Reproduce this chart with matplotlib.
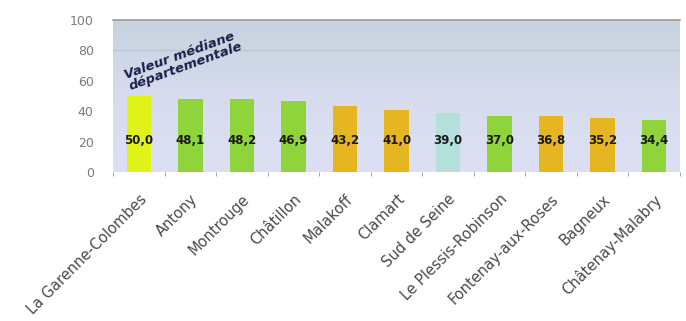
import matplotlib
matplotlib.use("Agg")
import matplotlib.pyplot as plt
import numpy as np
from matplotlib.colors import LinearSegmentedColormap

communes = ["La Garenne-Colombes", "Antony", "Montrouge", "Châtillon", "Malakoff",
            "Clamart", "Sud de Seine", "Le Plessis-Robinson", "Fontenay-aux-Roses",
            "Bagneux", "Châtenay-Malabry"]
values = [50.0, 48.1, 48.2, 46.9, 43.2, 41.0, 39.0, 37.0, 36.8, 35.2, 34.4]
bar_colors = ["#dff21a", "#8fd43a", "#8fd43a", "#8fd43a", "#e6b622", "#e6b622",
              "#b4e0dc", "#8fd43a", "#e6b622", "#e6b622", "#8fd43a"]
yticks = [0, 20, 40, 60, 80, 100]

fig = plt.figure(figsize=(6.86, 3.21), dpi=100)
ax = fig.add_axes([0.165, 0.464, 0.826, 0.474])

n = len(communes)
x = np.arange(n)
ax.set_xlim(-0.5, n - 0.5)
ax.set_ylim(0, 100)

cmap = LinearSegmentedColormap.from_list("bg", ["#dde0f4", "#d6dcee", "#c6d2de"])
grad = np.linspace(0, 1, 256).reshape(-1, 1)
ax.imshow(grad, extent=[-0.5, n - 0.5, 0, 100], origin="lower", aspect="auto",
          cmap=cmap, zorder=0)

ax.axhline(80, color="#b9c6d2", lw=1, zorder=1)
ax.bar(x, values, width=0.48, color=bar_colors, zorder=2)

for xi, v in zip(x, values):
    ax.text(xi, 21, f"{v:.1f}".replace(".", ","), ha="center", va="center",
            fontsize=8.5, fontweight="bold", color="#1a1a1a", zorder=3)

ax.text(-0.32, 73, "Valeur médiane\ndépartementale", rotation=20, ha="left", va="center",
        fontsize=9.5, fontweight="bold", style="italic", color="#1a1f4a",
        linespacing=0.95, zorder=4)

for s in ["left", "right", "bottom"]:
    ax.spines[s].set_visible(False)
ax.spines["top"].set_color("#9a9a9a")
ax.spines["top"].set_linewidth(1.2)

ax.set_yticks(yticks)
ax.set_yticklabels([str(t) for t in yticks], color="#7a7a7a", fontsize=9)
ax.tick_params(axis="y", length=0, pad=14)

ax.set_xticks(x)
ax.set_xticklabels(communes, rotation=45, ha="right", rotation_mode="anchor",
                   fontsize=10.5, color="#4a4a4a")
ax.tick_params(axis="x", length=0, pad=14)
ax.set_xticks(np.arange(-0.5, n, 1), minor=True)
ax.tick_params(axis="x", which="minor", length=3, color="#8899bb", direction="out")

fig.savefig("out.png", dpi=100)
